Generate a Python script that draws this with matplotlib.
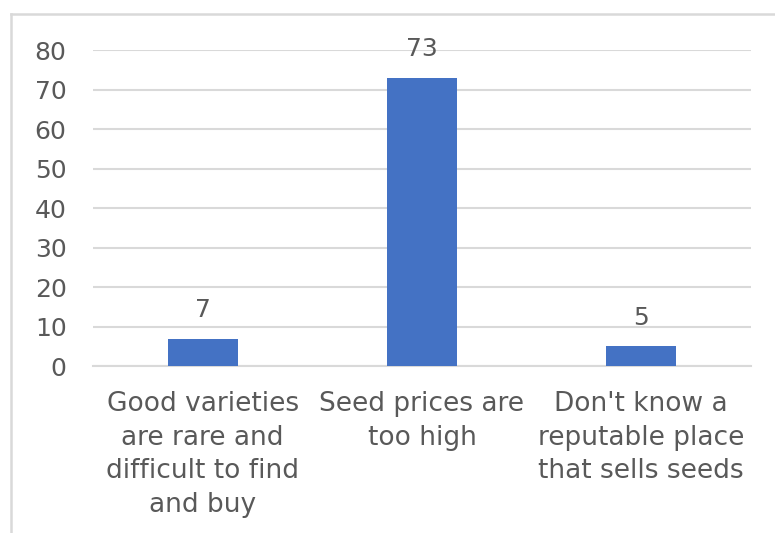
import matplotlib
matplotlib.use('Agg')
import matplotlib.pyplot as plt
from matplotlib.lines import Line2D

# chart data
categories = ['Good varieties\nare rare and\ndifficult to find\nand buy',
              'Seed prices are\ntoo high',
              "Don't know a\nreputable place\nthat sells seeds"]
values = [7, 73, 5]
yticks = [0, 10, 20, 30, 40, 50, 60, 70, 80]

text_col = '#595959'
grid_col = '#d9d9d9'
bar_col = '#4472C4'

plt.rcParams['font.family'] = ['DejaVu Sans']

fig = plt.figure(figsize=(7.75, 5.33), dpi=100)
ax = fig.add_axes([0.12, 0.313, 0.849, 0.593])

x = range(len(categories))
ax.bar(x, values, width=0.32, color=bar_col, zorder=3)
for xi, v in zip(x, values):
    ax.annotate(str(v), (xi, v), xytext=(0, 12), textcoords='offset points',
                ha='center', va='bottom', fontsize=18, color=text_col)

ax.set_xlim(-0.5, 2.5)
ax.set_ylim(0, 80)
ax.set_yticks(yticks)
ax.set_yticklabels([str(t) for t in yticks], fontsize=18, color=text_col)
ax.set_xticks(list(x))
ax.set_xticklabels(categories, fontsize=19, color=text_col, linespacing=1.38,
                   va='top')
ax.tick_params(axis='both', length=0)
ax.tick_params(axis='y', pad=19)
ax.tick_params(axis='x', pad=18)

ax.yaxis.grid(True, color=grid_col, linewidth=1.5, zorder=0)
for s in ['top', 'right', 'left']:
    ax.spines[s].set_visible(False)
ax.spines['bottom'].set_color(grid_col)
ax.spines['bottom'].set_linewidth(1.5)

# outer chart border (only top and left visible)
fig.add_artist(Line2D([0.0142, 1.0], [0.974, 0.974], color=grid_col, linewidth=1.8,
                      transform=fig.transFigure))
fig.add_artist(Line2D([0.0142, 0.0142], [0.0, 0.974], color=grid_col, linewidth=1.8,
                      transform=fig.transFigure))

fig.savefig('out.png', dpi=100)
